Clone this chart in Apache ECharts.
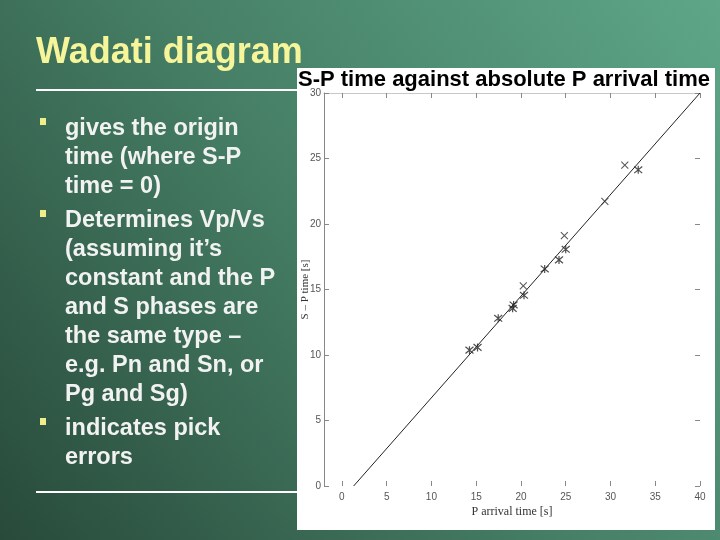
<!DOCTYPE html>
<html>
<head>
<meta charset="utf-8">
<script src="https://cdn.jsdelivr.net/npm/echarts@6/dist/echarts.min.js"></script>
<style>
html,body{margin:0;padding:0;}
#c{width:720px;height:540px;}
</style>
</head>
<body>
<div id="c"></div>
<script>
// ---- data ----
const starPoints = [
  [14.25, 10.37], [15.15, 10.58], [17.46, 12.80], [19.07, 13.56],
  [19.18, 13.82], [20.34, 14.56], [22.65, 16.57], [24.25, 17.26],
  [25.0, 18.07], [33.1, 24.14]
];
const crossPoints = [
  [20.26, 15.27], [24.85, 19.12], [29.37, 21.72], [31.6, 24.5]
];
const fitLine = [[1.31, 0], [40, 30]];
const xTicks = [0, 5, 10, 15, 20, 25, 30, 35, 40];
const yTicks = [0, 5, 10, 15, 20, 25, 30];
const slideTitle = 'Wadati diagram';
const chartTitle = 'S-P time against absolute P arrival time';
const xName = 'P arrival time [s]';
const yName = 'S \u2013 P time [s]';
const bulletLines = [
  ['gives the origin', 'time (where S-P', 'time = 0)'],
  ['Determines Vp/Vs', '(assuming it\u2019s', 'constant and the P', 'and S phases are', 'the same type \u2013', 'e.g. Pn and Sn, or', 'Pg and Sg)'],
  ['indicates pick', 'errors']
];

const chart = echarts.init(document.getElementById('c'), null, {renderer: 'canvas'});

const graphics = [];
// white panel
graphics.push({type: 'rect', z: -10, shape: {x: 297, y: 68, width: 418, height: 462}, style: {fill: '#ffffff'}});
// slide title
graphics.push({type: 'text', x: 36, y: 53, style: {text: slideTitle, fill: '#f6f59a', font: 'bold 36px "Liberation Sans", Arial, sans-serif', textVerticalAlign: 'middle'}});
// horizontal rules
graphics.push({type: 'rect', shape: {x: 36, y: 89, width: 262, height: 2}, style: {fill: '#ffffff'}});
graphics.push({type: 'rect', shape: {x: 36, y: 491, width: 262, height: 2}, style: {fill: '#ffffff'}});
// bullets
let yy = 128;
const lineH = 29;
bulletLines.forEach((grp, gi) => {
  graphics.push({type: 'rect', shape: {x: 40, y: yy - 10, width: 6, height: 7}, style: {fill: '#f0ee8a'}});
  grp.forEach((ln) => {
    graphics.push({type: 'text', x: 65, y: yy + 1, style: {text: ln, fill: '#f2f2f2', font: 'bold 23.5px "Liberation Sans", Arial, sans-serif', textVerticalAlign: 'middle'}});
    yy += lineH;
  });
  yy += 5;
});
// chart title
graphics.push({type: 'text', x: 298, y: 80, z: 20, style: {text: chartTitle, fill: '#000000', font: 'bold 22px "Liberation Sans", Arial, sans-serif', textVerticalAlign: 'middle'}});

const tickStyle = {show: true, inside: true, length: 5, lineStyle: {color: '#888', width: 1}};
const labelFont = {color: '#555', fontSize: 10, fontFamily: '"Liberation Sans Narrow", "Liberation Sans", Arial, sans-serif'};

const option = {
  animation: false,
  backgroundColor: {
    type: 'linear', x: 0, y: 1, x2: 1, y2: 0,
    colorStops: [
      {offset: 0, color: '#284a3a'},
      {offset: 0.5, color: '#467f66'},
      {offset: 1, color: '#5ea687'}
    ]
  },
  graphic: graphics,
  grid: {left: 324, right: 20, top: 93, bottom: 54, containLabel: false},
  xAxis: [{
    type: 'value', min: -2, max: 40, position: 'bottom',
    name: xName, nameLocation: 'middle', nameGap: 20, nameMoveOverlap: false,
    nameTextStyle: {color: '#333', fontSize: 12, fontFamily: '"Liberation Serif", "Times New Roman", serif'},
    axisLine: {show: false, onZero: false},
    axisTick: Object.assign({customValues: xTicks}, tickStyle),
    axisLabel: Object.assign({customValues: xTicks, margin: 6}, labelFont),
    splitLine: {show: false}
  }, {
    type: 'value', min: -2, max: 40, position: 'top',
    axisLine: {show: true, onZero: false, lineStyle: {color: '#c8c8c8'}},
    axisTick: Object.assign({customValues: xTicks}, tickStyle),
    axisLabel: {show: false},
    splitLine: {show: false}
  }],
  yAxis: [{
    type: 'value', min: 0, max: 30, interval: 5, position: 'left',
    name: yName, nameLocation: 'middle', nameGap: 13, nameRotate: 90, nameMoveOverlap: false,
    nameTextStyle: {color: '#333', fontSize: 11, fontFamily: '"Liberation Serif", "Times New Roman", serif'},
    axisLine: {show: true, onZero: false, lineStyle: {color: '#888'}},
    axisTick: tickStyle,
    axisLabel: Object.assign({margin: 3}, labelFont),
    splitLine: {show: false}
  }, {
    type: 'value', min: 0, max: 30, interval: 5, position: 'right',
    axisLine: {show: false, onZero: false},
    axisTick: tickStyle,
    axisLabel: {show: false},
    splitLine: {show: false}
  }],
  series: [{
    type: 'line', data: fitLine, showSymbol: false, symbol: 'none',
    lineStyle: {color: '#222', width: 1}, z: 2
  }, {
    type: 'scatter', data: starPoints,
    symbol: 'path://M0,0L10,10M10,0L0,10M5,-1L5,11', symbolSize: 8,
    itemStyle: {color: 'transparent', borderColor: '#222', borderWidth: 1.2}, z: 3
  }, {
    type: 'scatter', data: crossPoints,
    symbol: 'path://M0,0L10,10M10,0L0,10', symbolSize: 7,
    itemStyle: {color: 'transparent', borderColor: '#333', borderWidth: 1.1}, z: 3
  }]
};
chart.setOption(option);
</script>
</body>
</html>
